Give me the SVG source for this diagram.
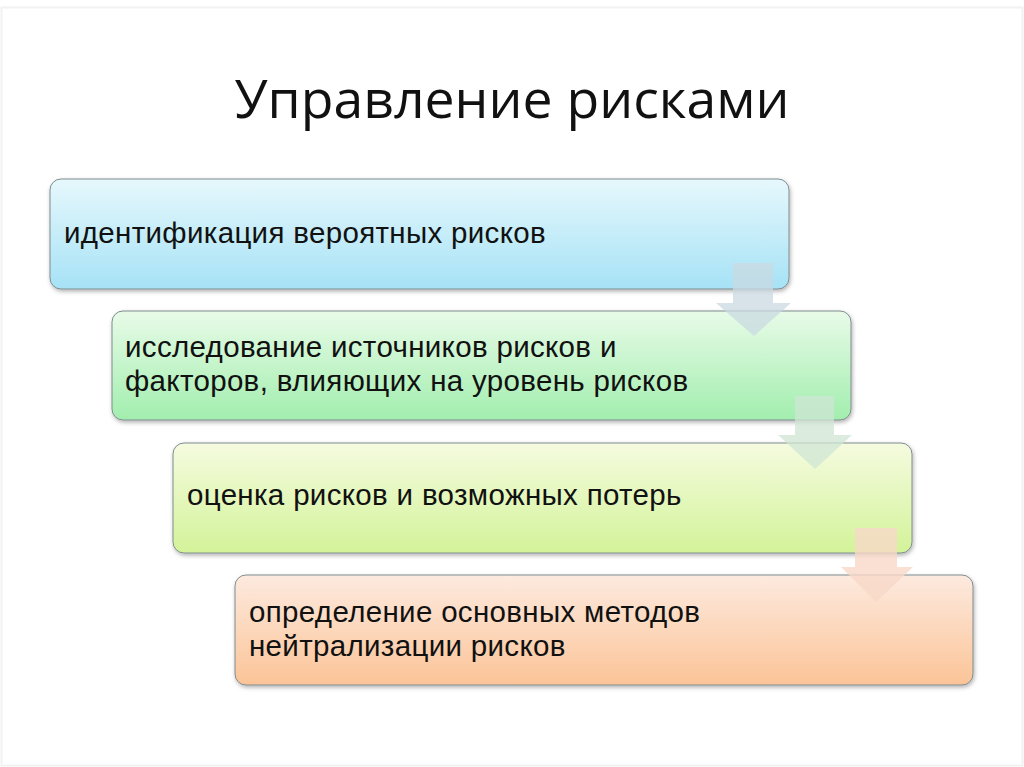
<svg xmlns="http://www.w3.org/2000/svg" width="1024" height="767" viewBox="0 0 1024 767">
<defs>
<linearGradient id="g1" x1="0" y1="0" x2="0" y2="1"><stop offset="0" stop-color="#e6f8fc"/><stop offset="1" stop-color="#a6e2f6"/></linearGradient>
<linearGradient id="g2" x1="0" y1="0" x2="0" y2="1"><stop offset="0" stop-color="#e8fbe8"/><stop offset="1" stop-color="#a2eeae"/></linearGradient>
<linearGradient id="g3" x1="0" y1="0" x2="0" y2="1"><stop offset="0" stop-color="#f5fbdf"/><stop offset="1" stop-color="#d3f399"/></linearGradient>
<linearGradient id="g4" x1="0" y1="0" x2="0" y2="1"><stop offset="0" stop-color="#fdeadf"/><stop offset="1" stop-color="#fbc497"/></linearGradient>
<filter id="sh" x="-5%" y="-10%" width="110%" height="125%"><feDropShadow dx="1" dy="2" stdDeviation="2" flood-color="#000" flood-opacity="0.3"/></filter>
</defs>
<style>
.box{stroke:#7f8c8f;stroke-width:1;filter:url(#sh)}
.t{font-family:"Liberation Sans",Arial,sans-serif;font-size:29.5px;letter-spacing:0.33px;fill:#111}
.title{font-family:"Open Sans","Noto Sans",sans-serif;font-size:53.5px;fill:#111}
</style>
<rect x="0" y="0" width="1024" height="767" fill="#ffffff"/>
<rect x="1.5" y="7.5" width="1021" height="758" fill="none" stroke="#f2f2f2" stroke-width="2"/>
<text class="title" x="512" y="118" text-anchor="middle">Управление рисками</text>
<g id="node1"><rect class="box" x="50" y="179" width="739" height="110" rx="11" fill="url(#g1)"/><text class="t" x="64" y="243">идентификация вероятных рисков</text></g>
<g id="node2"><rect class="box" x="112" y="311" width="739" height="109" rx="11" fill="url(#g2)"/><text class="t" x="125" y="357">исследование источников рисков и</text><text class="t" x="125" y="391">факторов, влияющих на уровень рисков</text></g>
<g id="node3"><rect class="box" x="173" y="443" width="739" height="110" rx="11" fill="url(#g3)"/><text class="t" x="187" y="505">оценка рисков и возможных потерь</text></g>
<g id="node4"><rect class="box" x="235" y="575" width="738" height="110" rx="11" fill="url(#g4)"/><text class="t" x="249" y="622">определение основных методов</text><text class="t" x="249" y="656">нейтрализации рисков</text></g>
<g id="connectors">
<polygon points="733,263 773,263 773,303 791,303 754,336 716,303 733,303" fill="#c9d9e2" fill-opacity="0.75"/>
<polygon points="795,396 834,396 834,435 852,435 815,469 778,435 795,435" fill="#cfe6d4" fill-opacity="0.75"/>
<polygon points="855,528 897,528 897,567 913,567 876,602 841,567 855,567" fill="#f7d8c8" fill-opacity="0.8"/>
</g>
</svg>
